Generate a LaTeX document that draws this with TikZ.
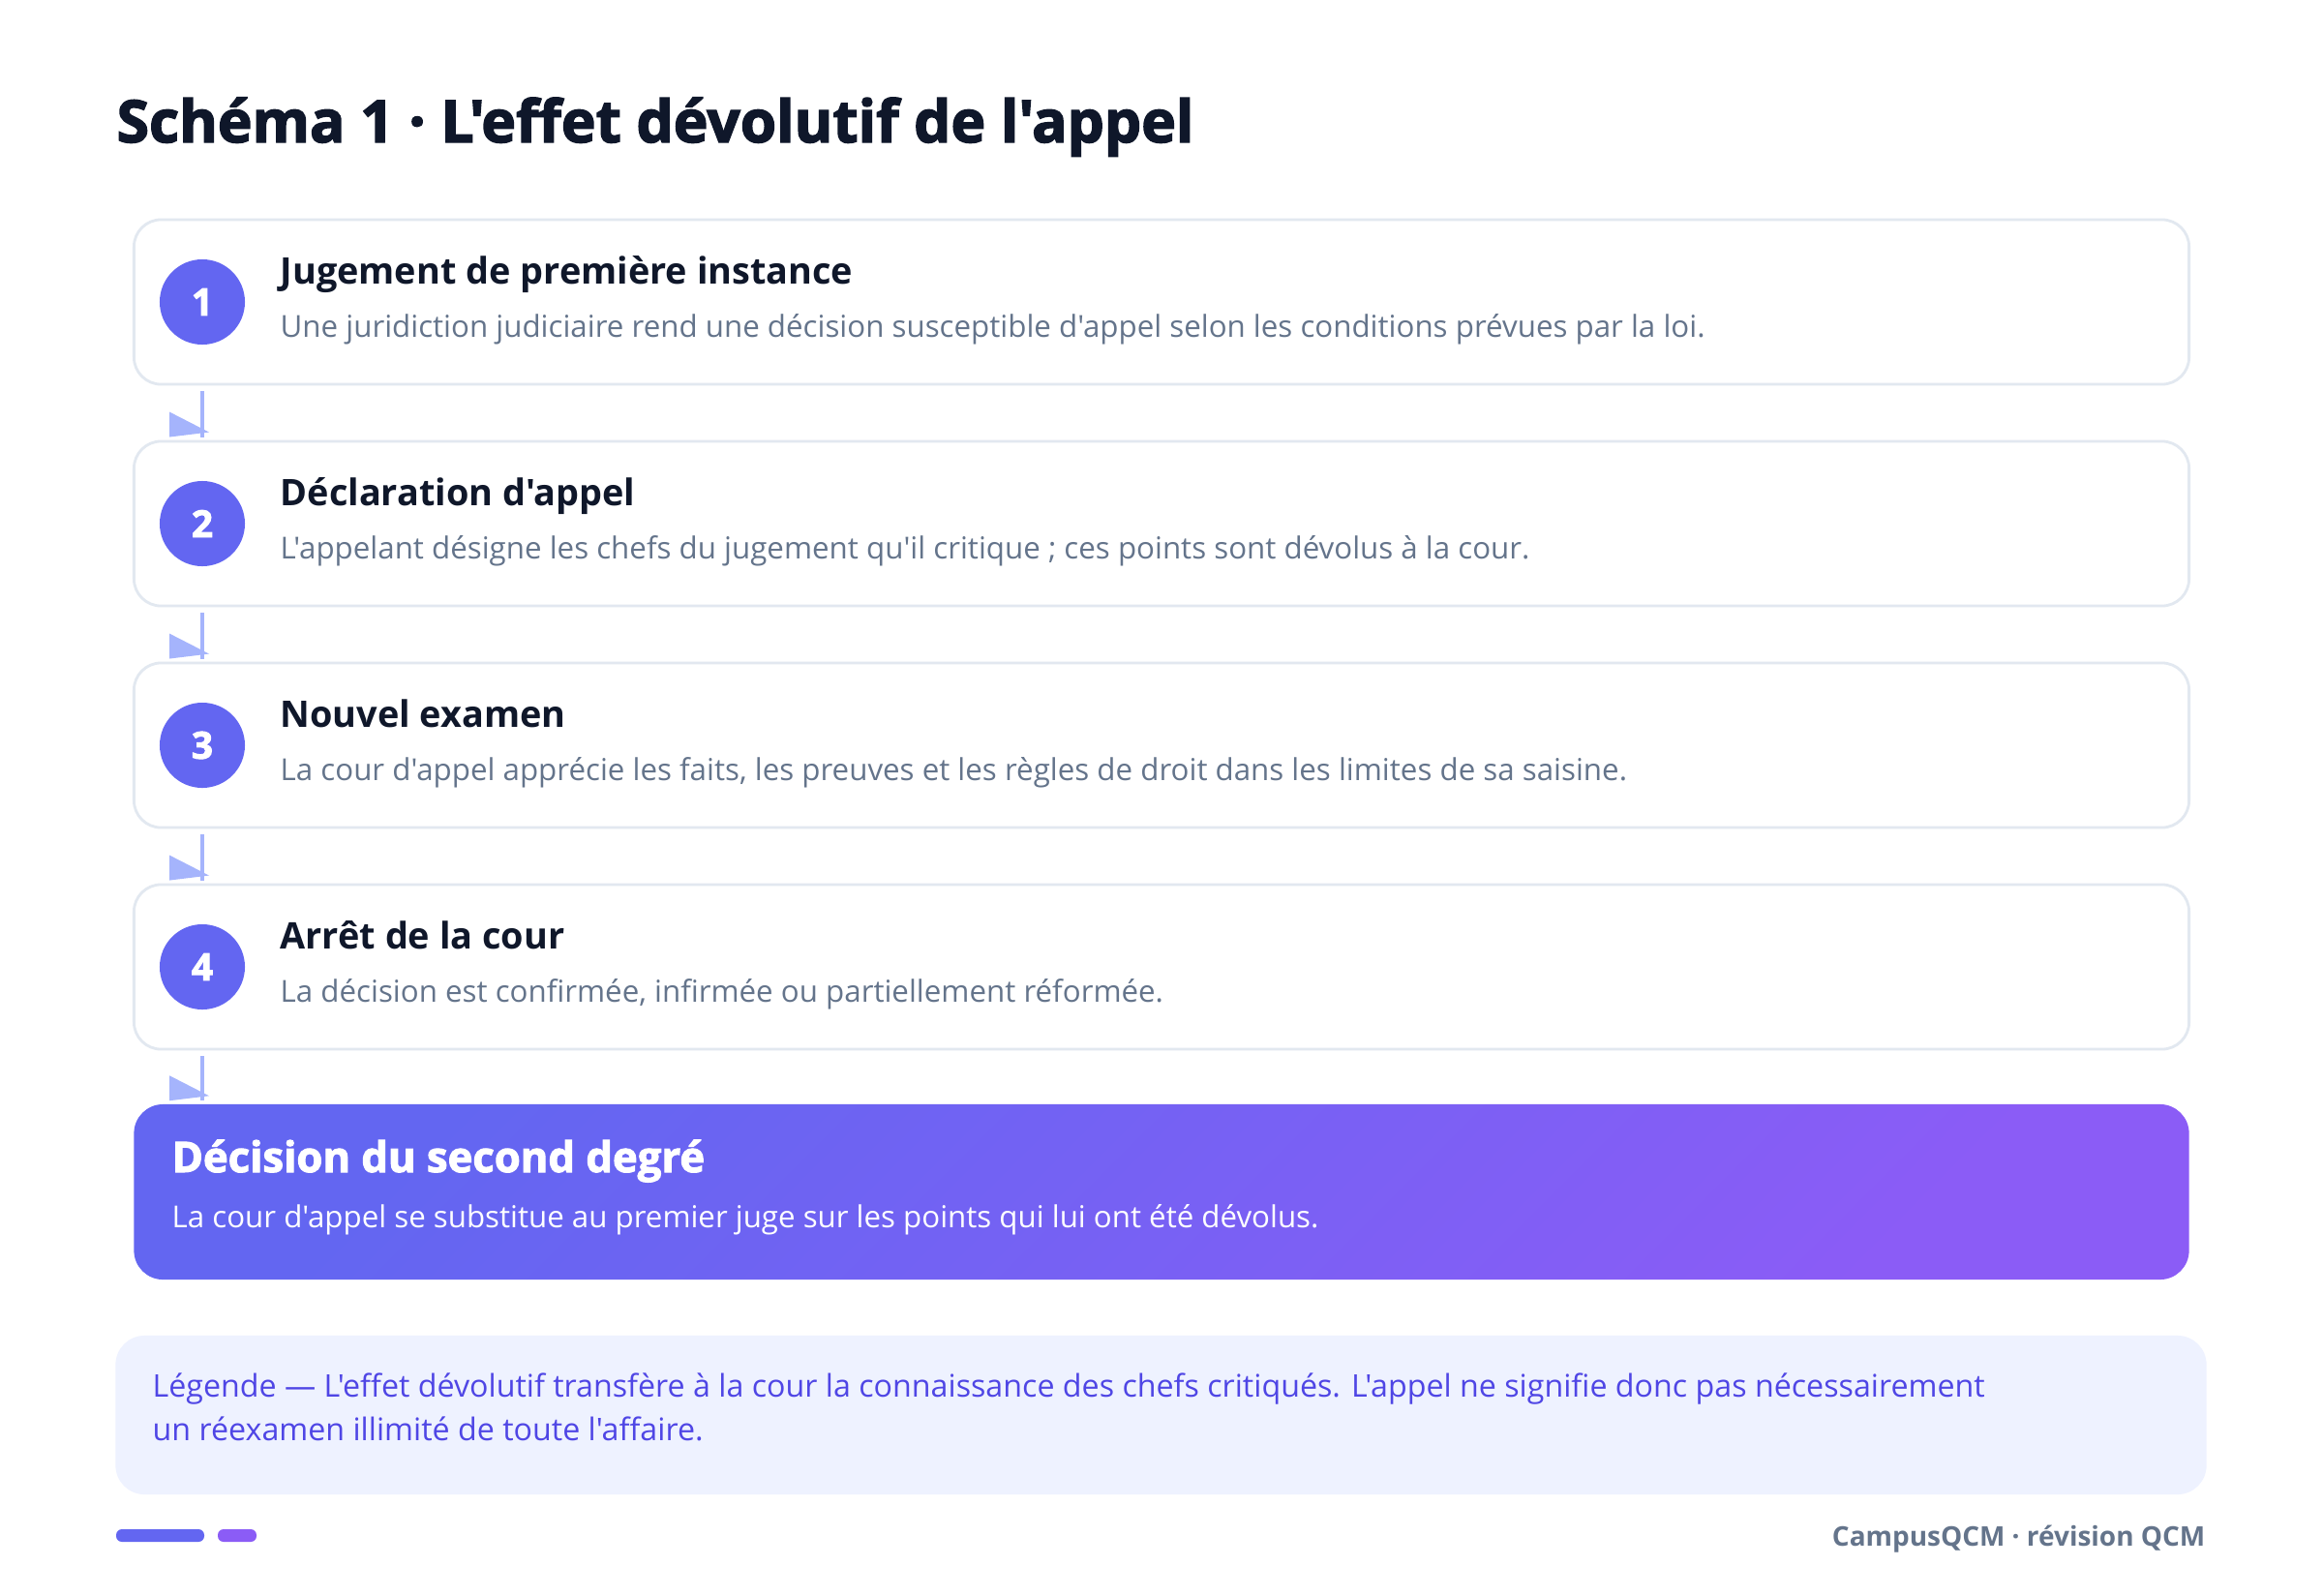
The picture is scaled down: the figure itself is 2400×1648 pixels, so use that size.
\documentclass[tikz,border=0pt]{standalone}
\usepackage{fontspec}
\setmainfont{Open Sans}[Ligatures=TeXOff]
\newfontfamily\blackfont{Open Sans Bold}[FakeBold=2.4, Ligatures=TeXOff]
\usetikzlibrary{calc, positioning}
\definecolor{inkNavy}{HTML}{0F172A}
\definecolor{descGray}{HTML}{64748B}
\definecolor{lineGray}{HTML}{E2E8F0}
\definecolor{dotIndigo}{HTML}{6366F1}
\definecolor{gradViolet}{HTML}{8B5CF6}
\definecolor{arrowBlue}{HTML}{A5B4FC}
\definecolor{legendBg}{HTML}{EEF2FF}
\definecolor{legendInk}{HTML}{4F46E5}

\tikzset{
  stepbox/.style={draw=lineGray, line width=0.8pt, fill=white, rounded corners=0.28cm,
    minimum width=21.22cm, minimum height=1.70cm, inner sep=0pt},
  numdot/.style={circle, fill=dotIndigo, minimum size=0.88cm, inner sep=0pt,
    text=white, font=\blackfont\fontsize{11}{11}\selectfont},
  headtxt/.style={anchor=base west, inner sep=0pt, text=inkNavy, font=\bfseries\fontsize{10.76}{13}\selectfont},
  desctxt/.style={anchor=base west, inner sep=0pt, text=descGray, font=\fontsize{8.9}{10}\selectfont},
  flow/.style={arrowBlue, line width=1.4pt},
  tipfill/.style={fill=arrowBlue},
  finbox/.style={rounded corners=0.3cm, minimum width=21.22cm, minimum height=1.81cm, inner sep=0pt,
    top color=dotIndigo, bottom color=gradViolet, shading angle=45},
  legtxt/.style={anchor=base west, inner sep=0pt, text=legendInk, font=\fontsize{9.16}{11}\selectfont},
}

\begin{document}
\begin{tikzpicture}[x=0.01cm, y=-0.01cm]
    \useasboundingbox[fill=white] (0,0) rectangle (2400,1648);

    \node[anchor=base west, inner sep=0pt, text=inkNavy, font=\blackfont\fontsize{17.2}{20}\selectfont]
        (title) at (120,147) {Schéma 1 · L'effet dévolutif de l'appel};

    % les quatre étapes
    \node[stepbox] (s1) at (1200,312) {};
    \node[numdot] (n1) at (209,312) {1};
    \node[headtxt] (h1) at (289,293) {Jugement de première instance};
    \node[desctxt] (d1) at (289,348) {Une juridiction judiciaire rend une décision susceptible d'appel selon les conditions prévues par la loi.};

    \node[stepbox] (s2) at (1200,541) {};
    \node[numdot] (n2) at (209,541) {2};
    \node[headtxt] (h2) at (289,522) {Déclaration d'appel};
    \node[desctxt] (d2) at (289,577) {L'appelant désigne les chefs du jugement qu'il critique ; ces points sont dévolus à la cour.};

    \node[stepbox] (s3) at (1200,770) {};
    \node[numdot] (n3) at (209,770) {3};
    \node[headtxt] (h3) at (289,751) {Nouvel examen};
    \node[desctxt] (d3) at (289,806) {La cour d'appel apprécie les faits, les preuves et les règles de droit dans les limites de sa saisine.};

    \node[stepbox] (s4) at (1200,999) {};
    \node[numdot] (n4) at (209,999) {4};
    \node[headtxt] (h4) at (289,980) {Arrêt de la cour};
    \node[desctxt] (d4) at (289,1035) {La décision est confirmée, infirmée ou partiellement réformée.};

    % décision finale
    \node[finbox] (fin) at (1200,1231.5) {};
    \node[anchor=base west, inner sep=0pt, text=white, font=\blackfont\fontsize{12.4}{14}\selectfont]
        (finh) at (177,1211) {Décision du second degré};
    \node[anchor=base west, inner sep=0pt, text=white, font=\fontsize{8.89}{10}\selectfont]
        (find) at (177,1268) {La cour d'appel se substitue au premier juge sur les points qui lui ont été dévolus.};

    % flèches
    \draw[flow] ($(s1.south -| n1)+(0,6)$) -- ($(s2.north -| n1)+(0,-3)$) coordinate (e1);
    \draw[flow] ($(s2.south -| n2)+(0,6)$) -- ($(s3.north -| n2)+(0,-3)$) coordinate (e2);
    \draw[flow] ($(s3.south -| n3)+(0,6)$) -- ($(s4.north -| n3)+(0,-3)$) coordinate (e3);
    \draw[flow] ($(s4.south -| n4)+(0,6)$) -- ($(fin.north -| n4)+(0,-3)$) coordinate (e4);
    \fill[tipfill] ($(e1)+(-34,-26)$) -- ++(0,26) -- ++(41,-5) -- cycle;
    \fill[tipfill] ($(e2)+(-34,-26)$) -- ++(0,26) -- ++(41,-5) -- cycle;
    \fill[tipfill] ($(e3)+(-34,-26)$) -- ++(0,26) -- ++(41,-5) -- cycle;
    \fill[tipfill] ($(e4)+(-34,-26)$) -- ++(0,26) -- ++(41,-5) -- cycle;

    % légende
    \node[fill=legendBg, rounded corners=0.3cm, minimum width=21.59cm, minimum height=1.64cm, inner sep=0pt]
        (leg) at (1199.5,1462) {};
    \node[legtxt] (lg1) at (157,1443) {Légende — L'effet dévolutif transfère à la cour la connaissance des chefs critiqués. L'appel ne signifie donc pas nécessairement};
    \node[legtxt] (lg2) at (157,1488) {un réexamen illimité de toute l'affaire.};

    % pied de page
    \fill[dotIndigo, rounded corners=0.06cm] (120,1580) rectangle (211,1593);
    \fill[gradViolet, rounded corners=0.06cm] (225,1580) rectangle (265,1593);
    \node[anchor=base east, inner sep=0pt, text=descGray, font=\bfseries\fontsize{7.95}{9}\selectfont]
        (brand) at (2279,1597) {CampusQCM · révision QCM};
\end{tikzpicture}
\end{document}
